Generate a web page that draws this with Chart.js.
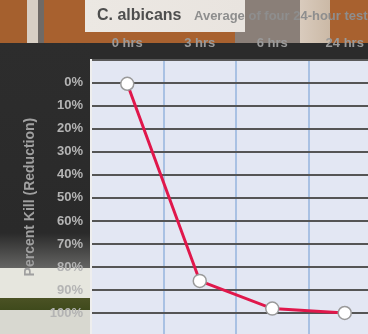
<!DOCTYPE html>
<html>
<head>
<meta charset="utf-8">
<script src="https://cdn.jsdelivr.net/npm/chart.js@4.4.1/dist/chart.umd.min.js"></script>
<style>
  html, body { margin: 0; padding: 0; width: 368px; height: 334px; overflow: hidden; }
  #bg {
    position: absolute; left: 0; top: 0; width: 368px; height: 334px;
    background:
      linear-gradient(to bottom, rgba(0,0,0,0) 0, rgba(0,0,0,0) 268px, #e6e6de 268px, #e6e6de 298px, #4b5224 298px, #3f4a1c 310px, #d8d8d0 310px) 0 0 / 90px 334px no-repeat,
      linear-gradient(to bottom, #2d2d2d 0, #2a2a2a 190px, #6d6d6b 230px, #9a9a94 268px) 0 43px / 90px 291px no-repeat,
      linear-gradient(to right, rgba(0,0,0,0) 0, rgba(0,0,0,0) 85px, #ece8e3 85px, #e9e4df 245px, rgba(0,0,0,0) 245px) 0 0 / 368px 32px no-repeat,
      linear-gradient(to right, #a5602e 0, #a5602e 27px, #d8cfc4 27px, #d8cfc4 38px, #6f6a66 38px, #6f6a66 44px, #a8612f 44px, #a8612f 235px, #8a7f78 235px, #8a7f78 300px, #d9cbbd 300px, #cbb9a6 330px, #a8612f 330px) 0 0 / 368px 43px no-repeat,
      #2b2b2b;
  }
  #wrap { position: absolute; left: 0; top: 0; width: 389px; height: 334px; overflow: hidden; }
</style>
</head>
<body>
<div id="bg"></div>
<div id="wrap"><canvas id="grafico" width="389" height="350"></canvas></div>
<script>
const categorias = ['0 hrs', '3 hrs', '6 hrs', '24 hrs'];
const reducao = [0.5, 86, 98, 99.9];
const ticksY = [0, 10, 20, 30, 40, 50, 60, 70, 80, 90, 100];

// fundo da área do gráfico + título
const fundoPlugin = {
  id: 'fundo',
  beforeDraw(chart) {
    const { ctx, chartArea: a } = chart;
    ctx.save();
    ctx.fillStyle = '#e3e7f3';
    ctx.fillRect(a.left, a.top, a.right - a.left, a.bottom - a.top);
    ctx.restore();
  },
  afterDraw(chart) {
    const ctx = chart.ctx;
    ctx.save();
    ctx.textBaseline = 'middle';
    ctx.fillStyle = '#4e4e4e';
    ctx.font = 'bold 16px "Liberation Sans", Arial, sans-serif';
    ctx.fillText('C. albicans', 97, 16);
    ctx.font = 'bold 13px "Liberation Sans", Arial, sans-serif';
    ctx.fillStyle = '#8e8e8e';
    ctx.fillText('Average of four 24-hour tests', 194, 16);
    ctx.restore();
  }
};

new Chart(document.getElementById('grafico'), {
  type: 'line',
  data: {
    labels: categorias,
    datasets: [{
      label: 'Redução',
      data: reducao,
      borderColor: '#e0174b',
      borderWidth: 3,
      tension: 0,
      pointRadius: 6.5,
      pointBackgroundColor: '#ffffff',
      pointBorderColor: '#9a9a9a',
      pointBorderWidth: 1.5
    }]
  },
  plugins: [fundoPlugin],
  options: {
    responsive: false,
    animation: false,
    layout: { padding: { left: 3, right: 0, top: 0, bottom: 0 } },
    plugins: {
      legend: { display: false },
      title: { display: false },
      tooltip: { enabled: false }
    },
    scales: {
      x: {
        position: 'top',
        offset: true,
        afterFit(scale) { scale.height = 60; },
        grid: { offset: true, color: '#a9c1e3', lineWidth: 2, drawTicks: false },
        border: { color: '#5a5a5a', width: 2 },
        ticks: {
          color: '#9a9a9a',
          padding: 9,
          font: { family: '"Liberation Sans", Arial, sans-serif', size: 13, weight: 'bold' }
        }
      },
      y: {
        reverse: true,
        min: -9.8,
        max: 109.1,
        afterFit(scale) { scale.width = 88; },
        afterBuildTicks(scale) { scale.ticks = ticksY.map(v => ({ value: v })); },
        grid: { color: '#555555', lineWidth: 2, drawTicks: false },
        border: { color: '#eeeeee', width: 2 },
        ticks: {
          color: '#b4b4b4',
          padding: 8,
          callback: v => v + '%',
          font: { family: '"Liberation Sans", Arial, sans-serif', size: 13, weight: 'bold' }
        },
        title: {
          display: true,
          text: 'Percent Kill (Reduction)',
          color: '#a0a0a0',
          padding: { top: 19, bottom: 0 },
          font: { family: '"Liberation Sans", Arial, sans-serif', size: 14, weight: 'bold' }
        }
      }
    }
  }
});
</script>
</body>
</html>
